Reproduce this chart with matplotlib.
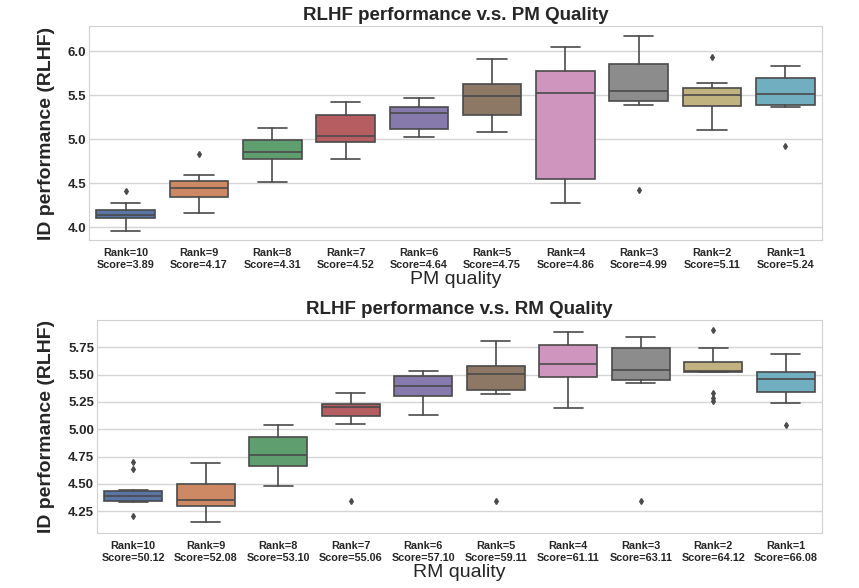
import matplotlib
matplotlib.use("Agg")
import matplotlib.pyplot as plt
import seaborn as sns
from matplotlib import font_manager

# tick labels (ranks and scores)
ranks = ["Rank=10", "Rank=9", "Rank=8", "Rank=7", "Rank=6",
         "Rank=5", "Rank=4", "Rank=3", "Rank=2", "Rank=1"]
pm_scores = [3.89, 4.17, 4.31, 4.52, 4.64, 4.75, 4.86, 4.99, 5.11, 5.24]
rm_scores = [50.12, 52.08, 53.10, 55.06, 57.10, 59.11, 61.11, 63.11, 64.12, 66.08]

# PM quality boxes
pm_whislo = [3.96, 4.16, 4.51, 4.78, 5.02, 5.08, 4.27, 5.39, 5.10, 5.36]
pm_q1 = [4.10, 4.34, 4.78, 4.97, 5.11, 5.27, 4.55, 5.43, 5.38, 5.39]
pm_med = [4.14, 4.45, 4.85, 5.04, 5.30, 5.49, 5.52, 5.55, 5.50, 5.51]
pm_q3 = [4.20, 4.53, 4.99, 5.28, 5.37, 5.63, 5.77, 5.85, 5.58, 5.70]
pm_whishi = [4.27, 4.59, 5.13, 5.42, 5.47, 5.91, 6.05, 6.17, 5.64, 5.83]
pm_fliers = [[4.41], [4.83], [], [], [], [], [], [4.42], [5.93], [4.92]]

# RM quality boxes
rm_whislo = [4.33, 4.15, 4.48, 5.05, 5.13, 5.32, 5.19, 5.42, 5.52, 5.24]
rm_q1 = [4.34, 4.30, 4.66, 5.12, 5.30, 5.36, 5.48, 5.45, 5.52, 5.34]
rm_med = [4.39, 4.35, 4.76, 5.20, 5.40, 5.51, 5.60, 5.54, 5.53, 5.46]
rm_q3 = [4.43, 4.50, 4.93, 5.23, 5.49, 5.58, 5.77, 5.74, 5.62, 5.52]
rm_whishi = [4.44, 4.69, 5.04, 5.33, 5.53, 5.81, 5.89, 5.84, 5.74, 5.69]
rm_fliers = [[4.70, 4.64, 4.21], [], [], [4.34], [], [4.34], [], [4.34],
             [5.91, 5.33, 5.29, 5.26], [5.04]]

sns.set_style("whitegrid")
plt.rcParams["font.family"] = ["Liberation Sans", "DejaVu Sans"]
installed = {f.name for f in font_manager.fontManager.ttflist}
narrow = ["Liberation Sans Narrow", "Liberation Sans", "DejaVu Sans"]
if "Liberation Sans Narrow" not in installed:
    narrow = ["Liberation Sans", "DejaVu Sans"]

colors = sns.color_palette("deep", 10, desat=0.75)
edge = "#4a4a4a"


def draw(ax, whislo, q1, med, q3, whishi, fliers, scores, title, xlabel, ylim, yticks):
    stats = []
    for i in range(len(med)):
        stats.append(dict(whislo=whislo[i], q1=q1[i], med=med[i], q3=q3[i],
                          whishi=whishi[i], fliers=fliers[i]))
    pos = list(range(len(stats)))
    bp = ax.bxp(stats, positions=pos, widths=0.8, patch_artist=True,
                capwidths=0.4, showfliers=True,
                boxprops=dict(edgecolor=edge, linewidth=1.2),
                whiskerprops=dict(color=edge, linewidth=1.2),
                capprops=dict(color=edge, linewidth=1.2),
                medianprops=dict(color=edge, linewidth=1.2),
                flierprops=dict(marker="d", markersize=3, markerfacecolor=edge,
                                markeredgecolor=edge, linestyle="none"))
    for patch, c in zip(bp["boxes"], colors):
        patch.set_facecolor(c)
    ax.set_xlim(-0.5, len(stats) - 0.5)
    ax.set_ylim(*ylim)
    ax.set_yticks(yticks)
    ax.grid(axis="x", visible=False)
    ax.grid(axis="y", color="#d5d5d5", linewidth=1.0)
    labels = [r + "\nScore=" + ("%.2f" % s) for r, s in zip(ranks, scores)]
    ax.set_xticks(pos)
    ax.set_xticklabels(labels, fontsize=7.8, fontweight="bold", linespacing=1.15)
    ax.tick_params(axis="x", pad=6, length=0)
    ax.tick_params(axis="y", pad=2, length=0, labelsize=9.5)
    for t in ax.get_yticklabels():
        t.set_fontweight("bold")
    ax.set_title(title, fontsize=13.5, fontweight="bold", pad=4)
    ax.set_xlabel(xlabel, fontsize=14, family=narrow, labelpad=1)
    ax.set_ylabel("ID performance (RLHF)", fontsize=14, fontweight="bold")
    for s in ax.spines.values():
        s.set_color("#d0d0d0")


fig = plt.figure(figsize=(8.59, 5.88), dpi=100)
ax1 = fig.add_axes([89 / 859, 1 - 240 / 588, 733 / 859, 214 / 588])
ax2 = fig.add_axes([97 / 859, 1 - 533 / 588, 725 / 859, 213 / 588])

draw(ax1, pm_whislo, pm_q1, pm_med, pm_q3, pm_whishi, pm_fliers, pm_scores,
     "RLHF performance v.s. PM Quality", "PM quality", (3.855, 6.285),
     [4.0, 4.5, 5.0, 5.5, 6.0])
draw(ax2, rm_whislo, rm_q1, rm_med, rm_q3, rm_whishi, rm_fliers, rm_scores,
     "RLHF performance v.s. RM Quality", "RM quality", (4.05, 6.0),
     [4.25, 4.5, 4.75, 5.0, 5.25, 5.5, 5.75])
ax1.yaxis.set_label_coords(-0.046, 0.5)
ax2.yaxis.set_label_coords(-0.058, 0.5)

fig.savefig("out.png", dpi=100)
